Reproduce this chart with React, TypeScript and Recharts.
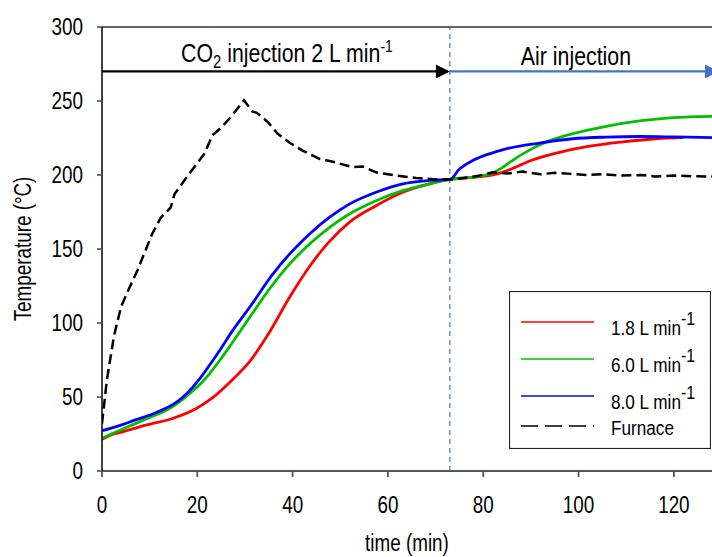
import { LineChart, Line, XAxis, YAxis, ReferenceLine, Legend, Label } from 'recharts'

// furnace temperature (black dashed)
const furnaceTime = [0, 1, 2.5, 4, 5.5, 7.5, 9, 10.5, 12.3, 14.4, 15.2, 17.2, 19.3, 21.4, 23.2, 25, 27, 29.8, 31.5, 32.5, 34, 35, 36.8, 39.3, 42, 45.6, 49, 52.6, 54.7, 57.5, 61.7, 65.9, 70, 73, 76, 79, 82, 85, 88.3, 92, 95, 98.8, 102, 105, 109, 113, 116, 120, 124, 128]
const furnaceTemp = [32, 61, 91, 111, 122, 136, 148, 160, 171, 178, 187, 196, 205, 214, 227, 232, 239, 250.5, 243, 242, 238, 235, 228, 222, 216.6, 211, 208.5, 205.3, 205.7, 201.8, 199.6, 198, 197, 197, 198, 199.5, 201.8, 201, 202.3, 200.5, 201.5, 200.7, 200, 200.5, 199.6, 200, 199, 199.6, 199.2, 199]

// sample temperature, 1.8 L/min
const rate18Time = [0, 2.5, 4.3, 9.2, 14.8, 19.7, 23, 27, 31, 35, 39.3, 43.5, 47.7, 51.9, 57.5, 63.1, 68.7, 73, 79, 82, 84, 86, 88, 90, 95.3, 102.3, 109.3, 116.3, 122]
const rate18Temp = [21.4, 25, 26.5, 31, 35.5, 42, 49, 60.5, 74, 93, 117, 138, 155, 168, 179.2, 188.3, 194, 197, 198.8, 200, 201.8, 204.2, 207, 209.8, 214.8, 219.5, 222.4, 224.5, 225.2]

// sample temperature, 6.0 L/min
const rate60Time = [0, 3, 7, 11, 13, 15, 17, 19, 21, 23, 25, 27.2, 31.4, 35.6, 39.3, 43.5, 47.7, 51.9, 57.5, 63.1, 68.7, 73, 77, 80, 82, 84, 86, 88.3, 93.2, 98.8, 105.8, 112.8, 119.8, 128]
const rate60Temp = [22.1, 26.5, 32, 37.5, 40.2, 43.8, 48.5, 54, 60, 67.5, 76, 86, 105.7, 125, 139.6, 153.2, 164.5, 173.6, 182.6, 189.4, 194, 197, 198.3, 199.6, 201.5, 205, 209.5, 214.3, 222.3, 227.9, 232.9, 236.5, 238.7, 239.6]

// sample temperature, 8.0 L/min
const rate80Time = [0, 3, 7, 11, 13, 15, 17, 19, 21, 23, 25, 27, 31.4, 35.6, 39.3, 43.5, 47.7, 51.9, 57.5, 63.1, 68.7, 73, 75, 77.8, 81.3, 84.8, 91.8, 98.8, 105.8, 112.8, 120, 128]
const rate80Temp = [27.2, 30, 34.5, 39, 41.8, 45.2, 50, 56.5, 64.5, 73.5, 83, 93, 112.5, 132, 146.4, 160, 171.3, 180.3, 188.3, 194, 196.3, 197, 204, 209.8, 214.3, 217.7, 221.6, 224.5, 225.6, 226, 225.7, 225.2]

const xTicks = [0, 20, 40, 60, 80, 100, 120]
const yTicks = [0, 50, 100, 150, 200, 250, 300]
const switchTime = 73
const arrowLevel = 270

const toPoints = (time: number[], temp: number[]) =>
  time.map((t, i) => ({ time: t, temp: temp[i] }))

const series = [
  { key: 'r18', label: '1.8 L min', sup: '-1', color: '#ff0000', dash: undefined, data: toPoints(rate18Time, rate18Temp) },
  { key: 'r60', label: '6.0 L min', sup: '-1', color: '#00c000', dash: undefined, data: toPoints(rate60Time, rate60Temp) },
  { key: 'r80', label: '8.0 L min', sup: '-1', color: '#0000ff', dash: undefined, data: toPoints(rate80Time, rate80Temp) },
  { key: 'furnace', label: 'Furnace', sup: '', color: '#000000', dash: '10 5', data: toPoints(furnaceTime, furnaceTemp) },
]

const FONT = "'Liberation Sans', Arial, sans-serif"
const AIR_BLUE = '#4472c4'

// the original uses a narrow face; squeeze Liberation Sans to get close
function NarrowText(props: any) {
  const { x, y, anchor = 'start', size, dy, rotate, squeeze = 0.82, children } = props
  const rot = rotate ? ` rotate(${rotate})` : ''
  return (
    <g transform={`translate(${x},${y})${rot} scale(${squeeze},1)`}>
      <text x={0} y={0} dy={dy} textAnchor={anchor} fontSize={size} fill="#000">
        {children}
      </text>
    </g>
  )
}

function Arrow(props: any) {
  const { x1, y1, x2, y2, color, children } = props
  const head = 14
  return (
    <g>
      <line x1={x1} y1={y1} x2={x2 - head + 2} y2={y2} stroke={color} strokeWidth={2.2} />
      <polygon points={`${x2},${y2} ${x2 - head},${y2 - 7} ${x2 - head},${y2 + 7}`} fill={color} />
      {children}
    </g>
  )
}

function LegendBox() {
  const rowY = [31, 68, 105, 135]
  const textY = [44, 81, 118, 144]
  return (
    <svg width={202} height={158} style={{ display: 'block', fontFamily: FONT }}>
      <rect x={0.5} y={0.5} width={201} height={157} fill="#fff" stroke="#222" strokeWidth={1.2} />
      {series.map((s, i) => (
        <g key={s.key}>
          <line x1={12} x2={85} y1={rowY[i]} y2={rowY[i]} stroke={s.color} strokeWidth={1.3} strokeDasharray={s.dash ? '17 7' : undefined} />
          <NarrowText x={102} y={textY[i]} size={19.5} squeeze={0.88}>
            {s.label}
            {s.sup && <tspan dy={-10} fontSize={18}>{s.sup}</tspan>}
          </NarrowText>
        </g>
      ))}
    </svg>
  )
}

export default function App() {
  return (
    <div style={{ position: 'absolute', left: 0, top: 0, fontFamily: FONT, background: '#fff' }}>
      <LineChart width={712} height={557} margin={{ top: 27, right: 0, bottom: 0, left: 0 }}>
        <XAxis
          dataKey="time"
          type="number"
          domain={[0, 128]}
          ticks={xTicks}
          allowDataOverflow
          height={86}
          tickSize={6}
          tickMargin={20}
          tick={(p: any) => (
            <NarrowText x={p.x} y={p.y} anchor="middle" size={23} dy="0.71em">
              {p.payload.value}
            </NarrowText>
          )}
          axisLine={{ stroke: '#555', strokeWidth: 1.8 }}
          tickLine={{ stroke: '#555', strokeWidth: 1.8 }}
        >
          <Label
            content={({ viewBox }: any) => (
              <NarrowText x={viewBox.x + viewBox.width / 2} y={551} anchor="middle" size={23}>
                time (min)
              </NarrowText>
            )}
          />
        </XAxis>
        <YAxis
          dataKey="temp"
          type="number"
          domain={[0, 300]}
          ticks={yTicks}
          width={102}
          tickSize={5}
          tickMargin={14}
          tick={(p: any) => (
            <NarrowText x={p.x} y={p.y} anchor="end" size={23} dy="0.355em">
              {p.payload.value}
            </NarrowText>
          )}
          axisLine={{ stroke: '#000', strokeWidth: 1.5 }}
          tickLine={{ stroke: '#444', strokeWidth: 1.5 }}
        >
          <Label
            content={({ viewBox }: any) => (
              <NarrowText x={31} y={viewBox.y + viewBox.height / 2} rotate={-90} anchor="middle" size={23}>
                Temperature (°C)
              </NarrowText>
            )}
          />
        </YAxis>
        <ReferenceLine y={300} stroke="#333" strokeWidth={1.5} />
        <ReferenceLine x={switchTime} stroke={AIR_BLUE} strokeWidth={1.2} strokeDasharray="5 4" />
        <ReferenceLine
          segment={[{ x: 0, y: arrowLevel }, { x: switchTime, y: arrowLevel }]}
          shape={(p: any) => (
            <Arrow {...p} color="#000">
              <NarrowText x={(p.x1 + p.x2) / 2 + 11} y={p.y1 - 9} anchor="middle" size={26}>
                CO<tspan dy={6} fontSize={18}>2</tspan>
                <tspan dy={-6}> injection 2 L min</tspan>
                <tspan dy={-10} fontSize={17}>-1</tspan>
              </NarrowText>
            </Arrow>
          )}
        />
        <ReferenceLine
          segment={[{ x: switchTime, y: arrowLevel }, { x: 128, y: arrowLevel }]}
          shape={(p: any) => (
            <Arrow {...p} x2={p.x2 + 7} color={AIR_BLUE}>
              <NarrowText x={(p.x1 + p.x2) / 2 - 5} y={p.y1 - 6} anchor="middle" size={26}>
                Air injection
              </NarrowText>
            </Arrow>
          )}
        />
        {series.map((s) => (
          <Line
            key={s.key}
            data={s.data}
            dataKey="temp"
            name={s.label}
            type={s.dash ? 'linear' : 'monotone'}
            stroke={s.color}
            strokeWidth={s.dash ? 2.5 : 2.8}
            strokeDasharray={s.dash}
            dot={false}
            isAnimationActive={false}
          />
        ))}
        <Legend
          layout="vertical"
          align="center"
          verticalAlign="middle"
          wrapperStyle={{ left: 509, top: 291, width: 202, height: 158 }}
          content={() => <LegendBox />}
        />
      </LineChart>
    </div>
  )
}
